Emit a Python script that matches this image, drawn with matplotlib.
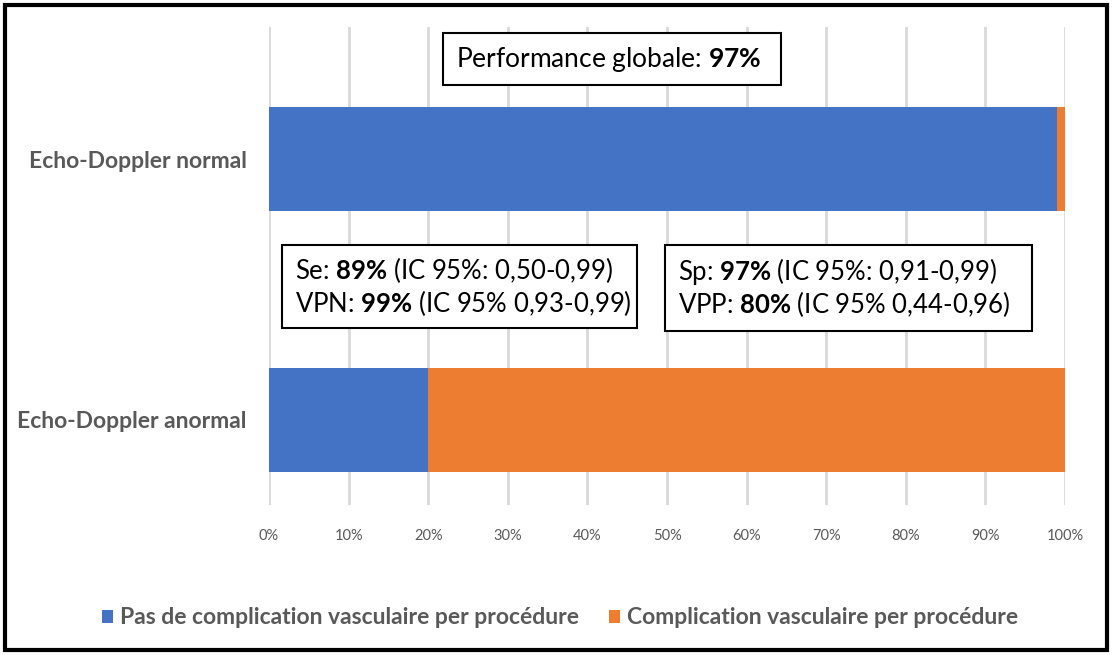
import matplotlib
matplotlib.use("Agg")
import matplotlib.pyplot as plt
from matplotlib.patches import Rectangle

plt.rcParams['font.family'] = ['Lato', 'DejaVu Sans']
plt.rcParams['mathtext.fontset'] = 'custom'
plt.rcParams['mathtext.rm'] = 'Lato'
plt.rcParams['mathtext.bf'] = 'Lato:bold'

# data
categories = ['Echo-Doppler anormal', 'Echo-Doppler normal']
pas_compl = [20, 99]      # % pas de complication
compl = [80, 1]           # % complication
series_names = ['Pas de complication vasculaire per procédure',
                'Complication vasculaire per procédure']
ticks = [0, 10, 20, 30, 40, 50, 60, 70, 80, 90, 100]

blue = '#4472C4'
orange = '#ED7D31'
grey = '#595959'

W, H = 1112, 655
fig = plt.figure(figsize=(W/100, H/100), dpi=100)

ax = fig.add_axes([269/W, 1-505/H, (1065-269)/W, (505-27)/H])
y = list(range(len(categories)))
ax.barh(y, pas_compl, height=0.4, color=blue, label=series_names[0])
ax.barh(y, compl, left=pas_compl, height=0.4, color=orange, label=series_names[1])
ax.set_xlim(0, 100)
ax.set_ylim(-0.326, 1.506)
ax.set_xticks(ticks)
ax.set_xticklabels(['%d%%' % t for t in ticks], fontsize=10.5, color=grey)
ax.set_yticks(y)
ax.set_yticklabels(categories, fontsize=16.5, fontweight='bold', color=grey)
ax.tick_params(axis='x', length=0, pad=17)
ax.tick_params(axis='y', length=0, pad=16)
ax.xaxis.grid(True, color='#D9D9D9', linewidth=2)
ax.set_axisbelow(True)
for s in ax.spines.values():
    s.set_visible(False)

# annotation boxes (pixel positions from the picture)
def box(x0, y0, x1, y1, lines, size):
    fig.patches.append(Rectangle((x0/W, 1-y1/H), (x1-x0)/W, (y1-y0)/H,
                                 transform=fig.transFigure, facecolor='white',
                                 edgecolor='black', linewidth=1.5, zorder=5))
    n = len(lines)
    mid = (y0 + y1) / 2
    for i, t in enumerate(lines):
        cy = mid + (i - (n-1)/2) * 33
        fig.text((x0+13)/W, 1-cy/H, t, fontsize=size, va='center', ha='left', zorder=6)

box(443, 33, 781, 85, [r'Performance globale: $\mathbf{97\%}$'], 19)
box(282, 245, 637, 328, [r'Se: $\mathbf{89\%}$ (IC 95%: 0,50-0,99)',
                         r'VPN: $\mathbf{99\%}$ (IC 95% 0,93-0,99)'], 18.5)
box(665, 245, 1032, 331, [r'Sp: $\mathbf{97\%}$ (IC 95%: 0,91-0,99)',
                          r'VPP: $\mathbf{80\%}$ (IC 95% 0,44-0,96)'], 18.5)

leg = fig.legend(loc='center', bbox_to_anchor=(560/W, 1-618/H), ncol=2,
                 frameon=False, handlelength=0.5, handleheight=0.5,
                 handletextpad=0.3, columnspacing=1.3,
                 prop={'size': 16.5, 'weight': 'bold'})
for t in leg.get_texts():
    t.set_color(grey)

# outer frame
fig.patches.append(Rectangle((5/W, 5/H), (W-10)/W, (H-10)/H, transform=fig.transFigure,
                             fill=False, edgecolor='black', linewidth=3))

fig.savefig('out.png', dpi=100)
